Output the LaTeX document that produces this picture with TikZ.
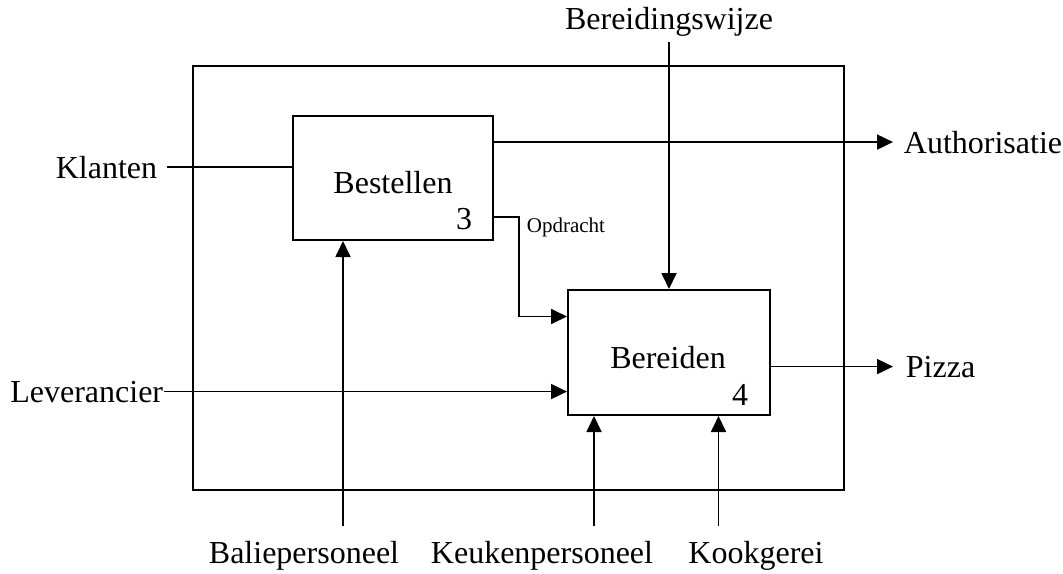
\documentclass[tikz,border=0pt]{standalone}
\usepackage{fontspec}
\setmainfont{Liberation Serif}
\usetikzlibrary{arrows.meta}
\begin{document}
\begin{tikzpicture}[x=0.5pt,y=-0.5pt,line width=0.9pt,
        >={Triangle[length=8pt,width=7.5pt]},
        proc/.style={draw,line width=1pt,inner sep=0pt},
        lbl/.style={font=\fontsize{16}{19}\selectfont,inner sep=0pt},
        small/.style={font=\fontsize{10.5}{12}\selectfont,inner sep=0pt}]
        \useasboundingbox (0,0) rectangle (1063,573);
        \draw (193,66) rectangle (844,490);

        \node[proc,minimum width=100pt,minimum height=62pt] (best) at (393,178) {};
        \node[lbl,anchor=base] (bestname) at (393,193) {Bestellen};
        \node[lbl,anchor=base] (bestnr) at (464,229) {3};

        \node[proc,minimum width=101pt,minimum height=62.5pt] (bere) at (669,352.5) {};
        \node[lbl,anchor=base] (berename) at (668,368) {Bereiden};
        \node[lbl,anchor=base] (berenr) at (740,405) {4};

        \node[lbl,anchor=base] (wijze) at (669,29) {Bereidingswijze};
        \node[lbl,anchor=base east] (klant) at (158,178) {Klanten};
        \node[lbl,anchor=base east] (lev) at (164,402) {Leverancier};
        \node[lbl,anchor=base west] (auth) at (903,153) {Authorisatie};
        \node[lbl,anchor=base west] (pizza) at (905,377) {Pizza};
        \node[small,anchor=base west] (opd) at (526,232) {Opdracht};
        \node[lbl,anchor=base] (bali) at (304,563) {Baliepersoneel};
        \node[lbl,anchor=base] (keuken) at (542,563) {Keukenpersoneel};
        \node[lbl,anchor=base] (kook) at (756,563) {Kookgerei};

        \coordinate (balistart) at (343,526);
        \coordinate (keukenstart) at (594,526);
        \coordinate (kookstart) at (718.5,526);

        % inputs
        \draw ([xshift=4.5pt]klant.east) -- (klant.east -| best.west);
        \draw[->] (lev.east) -- (lev.east -| bere.west);
        % control
        \draw[->] (wijze.south) ++(0,5) -- (bere.north);
        % outputs
        \draw[->] (auth.west -| best.east) -- ([xshift=-5pt]auth.west);
        \draw[->] (pizza.west -| bere.east) -- ([xshift=-6pt]pizza.west);
        \draw[->] (best.south east) ++(0,-24) -- ++(25,0) |- ([yshift=18pt]bere.west);
        % mechanisms
        \draw[->] (balistart) -- (balistart |- best.south);
        \draw[->] (keukenstart) -- (keukenstart |- bere.south);
        \draw[->] (kookstart) -- (kookstart |- bere.south);
    \end{tikzpicture}
\end{document}
